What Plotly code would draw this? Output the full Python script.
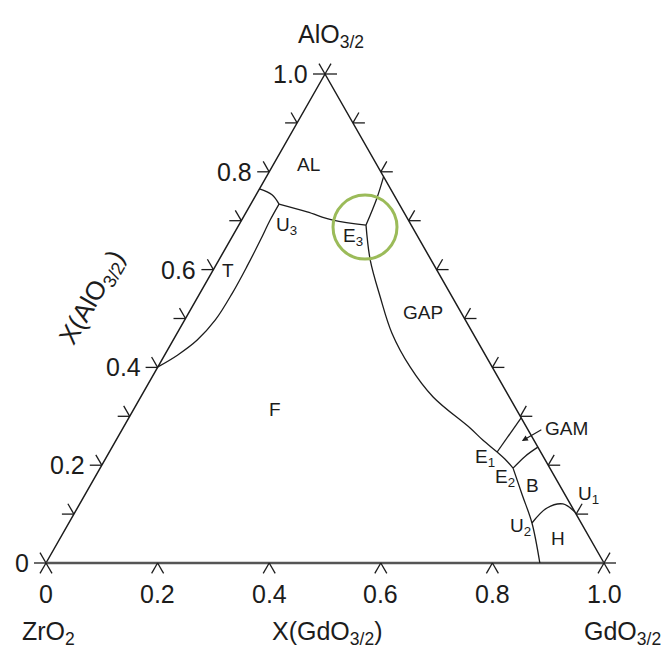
import math
import plotly.graph_objects as go

# ---------------- data: compositions (mole fractions GdO3/2, AlO3/2) ----------------
# AL / T boundary from ZrO2-AlO3/2 edge to U3
al_t_gd = [0.0, 0.0285, 0.0506]
al_t_al = [0.765, 0.753, 0.734]
# T / F boundary from U3 down to the edge at X(Al)=0.4
t_f_gd = [0.0506, 0.051, 0.054, 0.057, 0.058, 0.055, 0.043, 0.023, 0.0]
t_f_al = [0.734, 0.701, 0.661, 0.605, 0.552, 0.497, 0.456, 0.425, 0.401]
# U3 -> E3
u3_e3_gd = [0.0506, 0.109, 0.164, 0.228]
u3_e3_al = [0.734, 0.718, 0.701, 0.691]
# E3 -> Gd-Al edge
e3_edge_gd = [0.228, 0.220, 0.210]
e3_edge_al = [0.691, 0.746, 0.790]
# E3 -> E1 -> E2 (GAP / F boundary)
e3_e2_gd = [0.228, 0.271, 0.327, 0.385, 0.452, 0.524, 0.622, 0.657, 0.695, 0.716, 0.740]
e3_e2_al = [0.691, 0.620, 0.544, 0.470, 0.401, 0.3395, 0.276, 0.2515, 0.227, 0.2127, 0.194]
# E1 -> edge
e1_edge_gd = [0.695, 0.703]
e1_edge_al = [0.227, 0.297]
# E2 -> edge
e2_edge_gd = [0.740, 0.750, 0.763]
e2_edge_al = [0.194, 0.219, 0.237]
# E2 -> U2 -> ZrO2-GdO3/2 edge
e2_bot_gd = [0.740, 0.784, 0.830, 0.885]
e2_bot_al = [0.194, 0.139, 0.0818, 0.0]
# U2 -> U1
u2_u1_gd = [0.830, 0.8416, 0.866, 0.896]
u2_u1_al = [0.0818, 0.1125, 0.1207, 0.104]

curves = [
    (al_t_gd, al_t_al), (t_f_gd, t_f_al), (u3_e3_gd, u3_e3_al),
    (e3_edge_gd, e3_edge_al), (e3_e2_gd, e3_e2_al), (e1_edge_gd, e1_edge_al),
    (e2_edge_gd, e2_edge_al), (e2_bot_gd, e2_bot_al), (u2_u1_gd, u2_u1_al),
]

# phase / point labels (text, GdO3/2, AlO3/2)
label_text = ["AL", "U<sub>3</sub>", "E<sub>3</sub>", "T", "GAP", "F", "GAM",
              "E<sub>1</sub>", "E<sub>2</sub>", "B", "U<sub>1</sub>", "U<sub>2</sub>", "H"]
label_gd = [0.064, 0.087, 0.217, 0.027, 0.419, 0.254, 0.794, 0.680, 0.736, 0.793, 0.902, 0.814, 0.892]
label_al = [0.814, 0.689, 0.667, 0.599, 0.513, 0.313, 0.276, 0.2147, 0.174, 0.1595, 0.139, 0.0736, 0.051]

# GAM arrow tip
arrow_gd, arrow_al = 0.728, 0.2495

# ticks
side_ticks = [0.0, 0.1, 0.2, 0.3, 0.4, 0.5, 0.6, 0.7, 0.8, 0.9, 1.0]
bottom_ticks = [0.0, 0.2, 0.4, 0.6, 0.8, 1.0]
left_labels = ["0", "0.2", "0.4", "0.6", "0.8", "1.0"]
left_label_vals = [0.0, 0.2, 0.4, 0.6, 0.8, 1.0]
bottom_labels = ["0", "0.2", "0.4", "0.6", "0.8", "1.0"]

# ---------------- geometry ----------------
W, H = 664, 648
PX_X, PX_Y = 558.0, 489.0        # pixels per unit
X0_PX, Y0_PX = 46.0, 563.0        # pixel of ZrO2 corner


def cart(gd, al):
    return [g + a / 2.0 for g, a in zip(gd, al)], list(al)


INK = "#1c1c1c"
fig = go.Figure()

# triangle
tri_x, tri_y = cart([0, 0, 1], [0, 1, 0])
fig.add_trace(go.Scatter(x=[tri_x[0], tri_x[1], tri_x[2]], y=[tri_y[0], tri_y[1], tri_y[2]],
                         mode="lines", line=dict(color=INK, width=1.5), hoverinfo="skip"))
fig.add_trace(go.Scatter(x=[tri_x[0], tri_x[2]], y=[tri_y[0], tri_y[2]],
                         mode="lines", line=dict(color="#555555", width=2.4), hoverinfo="skip"))

# ticks
TL = 12.0


def seg(x, y, ang):
    r = math.radians(ang)
    return [x, x + TL * math.cos(r) / PX_X, None], [y, y + TL * math.sin(r) / PX_Y, None]


tx, ty = [], []
for a in side_ticks:
    xl, yl = cart([0.0], [a])
    xr, yr = cart([1.0 - a], [a])
    for ang in (180, 120):
        sx, sy = seg(xl[0], yl[0], ang)
        tx += sx; ty += sy
    for ang in (0, 60):
        sx, sy = seg(xr[0], yr[0], ang)
        tx += sx; ty += sy
for g in bottom_ticks:
    for ang in (240, 300):
        sx, sy = seg(g, 0.0, ang)
        tx += sx; ty += sy
fig.add_trace(go.Scatter(x=tx, y=ty, mode="lines", line=dict(color=INK, width=1.3), hoverinfo="skip"))

# phase boundaries
for gd, al in curves:
    cx, cy = cart(gd, al)
    fig.add_trace(go.Scatter(x=cx, y=cy, mode="lines",
                             line=dict(color=INK, width=1.3, shape="spline", smoothing=1.0),
                             hoverinfo="skip"))

FONT = "Liberation Sans, Arial, sans-serif"
ann = []
lx, ly = cart(label_gd, label_al)
for t, x, y in zip(label_text, lx, ly):
    ann.append(dict(x=x, y=y, text=t, showarrow=False, font=dict(family=FONT, size=19, color=INK)))

# GAM arrow
ax_, ay_ = cart([arrow_gd], [arrow_al])
ann.append(dict(x=ax_[0], y=ay_[0], ax=21, ay=-12, text="", showarrow=True,
                arrowhead=2, arrowsize=1, arrowwidth=1.2, arrowcolor=INK))

# tick labels
for t, v in zip(left_labels, left_label_vals):
    x, y = cart([0.0], [v])
    ann.append(dict(x=x[0], y=y[0], text=t, showarrow=False, xanchor="right", xshift=-15,
                    font=dict(family=FONT, size=25, color=INK)))
for t, v in zip(bottom_labels, bottom_ticks):
    ann.append(dict(x=v, y=0.0, text=t, showarrow=False, yshift=-31,
                    font=dict(family=FONT, size=25, color=INK)))

# component / axis names
ann.append(dict(x=0.0, y=0.0, text="ZrO<sub>2</sub>", showarrow=False, xshift=2, yshift=-70,
                font=dict(family=FONT, size=25, color=INK)))
ann.append(dict(x=1.0, y=0.0, text="GdO<sub>3/2</sub>", showarrow=False, xshift=18, yshift=-70,
                font=dict(family=FONT, size=25, color=INK)))
ann.append(dict(x=0.5, y=0.0, text="X(GdO<sub>3/2</sub>)", showarrow=False, xshift=2, yshift=-70,
                font=dict(family=FONT, size=25, color=INK)))
ann.append(dict(x=0.5, y=1.0, text="AlO<sub>3/2</sub>", showarrow=False, xshift=6, yshift=38,
                font=dict(family=FONT, size=25, color=INK)))
ann.append(dict(x=92 / W, y=1 - 298 / H, xref="paper", yref="paper", text="X(AlO<sub>3/2</sub>)",
                xanchor="center", yanchor="middle",
                showarrow=False, textangle=-60, font=dict(family=FONT, size=26, color=INK)))

# green highlight circle around E3
e3x, e3y = cart([u3_e3_gd[-1]], [u3_e3_al[-1]])
shapes = [dict(type="circle", xref="x", yref="y", xsizemode="pixel", ysizemode="pixel",
               xanchor=e3x[0], yanchor=e3y[0], x0=-33, x1=31, y0=-34, y1=30,
               line=dict(color="#9bbb59", width=3))]

fig.update_layout(
    width=W, height=H, margin=dict(l=0, r=0, t=0, b=0),
    paper_bgcolor="white", plot_bgcolor="white", showlegend=False,
    xaxis=dict(range=[-X0_PX / PX_X, (W - X0_PX) / PX_X], visible=False, fixedrange=True),
    yaxis=dict(range=[(Y0_PX - H) / PX_Y, Y0_PX / PX_Y], visible=False, fixedrange=True),
    annotations=ann, shapes=shapes,
)

fig.write_html("out.html", config={"displayModeBar": False},
               post_script="document.body.style.margin='0';document.body.style.overflow='hidden';")
